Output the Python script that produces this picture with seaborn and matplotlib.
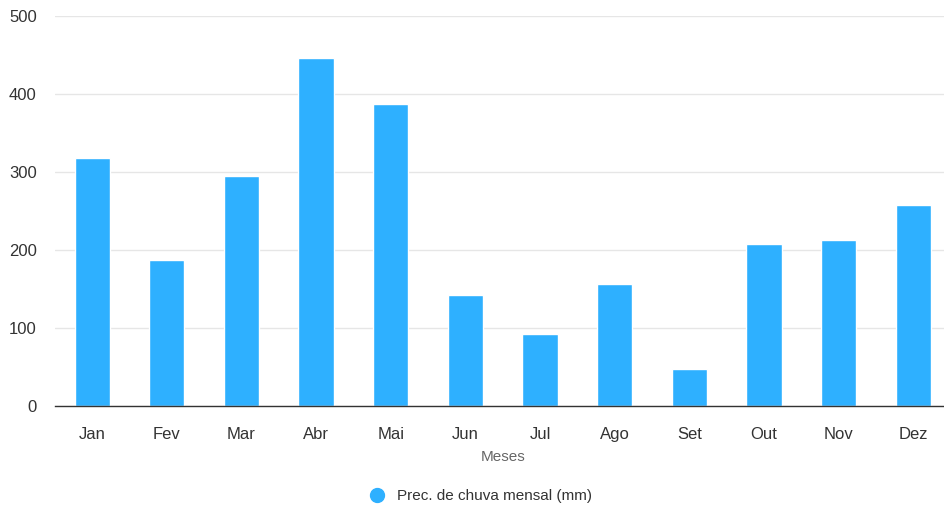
import matplotlib
matplotlib.use('Agg')
import matplotlib.pyplot as plt
from matplotlib.lines import Line2D
import seaborn as sns
import pandas as pd

meses = ['Jan', 'Fev', 'Mar', 'Abr', 'Mai', 'Jun', 'Jul', 'Ago', 'Set', 'Out', 'Nov', 'Dez']
chuva = [318, 187, 295, 446, 387, 142, 92, 156, 47, 208, 213, 258]
serie = 'Prec. de chuva mensal (mm)'
cor = '#2eb0ff'

sns.set_theme(style='white')
plt.rcParams['font.family'] = ['Liberation Sans', 'DejaVu Sans']

df = pd.DataFrame({'Meses': meses, 'chuva': chuva})

fig = plt.figure(figsize=(9.44, 5.07), dpi=100)
ax = fig.add_axes([0.058, 0.199, 0.949, 0.769])

sns.barplot(data=df, x='Meses', y='chuva', color=cor, width=0.47, saturation=1, ax=ax)

ax.set_ylim(0, 500)
ax.set_yticks([0, 100, 200, 300, 400, 500])
ax.yaxis.grid(True, color='#e6e6e6', linewidth=1)
ax.set_axisbelow(True)
for s in ['top', 'right', 'left']:
    ax.spines[s].set_visible(False)
ax.spines['bottom'].set_color('#333333')
ax.spines['bottom'].set_linewidth(1)
ax.tick_params(axis='both', length=0, labelsize=12, colors='#333333')
ax.tick_params(axis='x', pad=15)
ax.tick_params(axis='y', pad=13)
ax.set_ylabel('')
ax.set_xlabel('Meses', fontsize=11, color='#666666', labelpad=6)

handle = Line2D([], [], marker='o', linestyle='', markersize=10, color=cor)
fig.legend([handle], [serie], loc='center', bbox_to_anchor=(0.505, 0.021),
           frameon=False, fontsize=11, handletextpad=0.3, labelcolor='#333333')

fig.savefig('out.png', dpi=100)
